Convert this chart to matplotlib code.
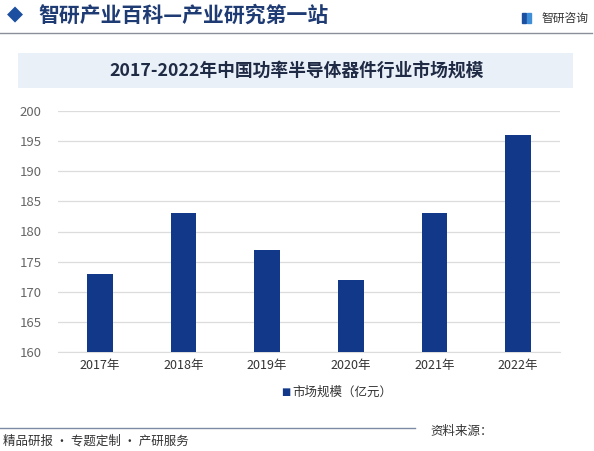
import matplotlib
matplotlib.use('Agg')
import matplotlib.pyplot as plt
from matplotlib.patches import Rectangle
from matplotlib.lines import Line2D

plt.rcParams['font.family'] = ['Noto Sans CJK SC', 'DejaVu Sans']

years = ['2017年', '2018年', '2019年', '2020年', '2021年', '2022年']
market_size = [173, 183, 177, 172, 183, 196]
y_ticks = [160, 165, 170, 175, 180, 185, 190, 195, 200]

header_text = '智研产业百科—产业研究第一站'
chart_title = '2017-2022年中国功率半导体器件行业市场规模'
legend_label = '市场规模（亿元）'
footer_left = '精品研报 · 专题定制 · 产研服务'
footer_right = '资料来源：'

bar_color = '#12388a'
navy = '#1f3b73'

fig = plt.figure(figsize=(5.94, 4.51), dpi=100)
W, H = 594, 451

def fx(px):
    return px / W

def fy(py):
    return 1 - py / H

# header
fig.text(fx(15), fy(14), '◆', color='#1c4fa0', fontsize=15, ha='center', va='center',
         family=['DejaVu Sans'])
fig.text(fx(38), fy(15), header_text, color=navy, fontsize=15, ha='left', va='center',
         fontweight='bold')
fig.add_artist(Line2D([0, fx(592)], [fy(33), fy(33)], color='#8a8f99', lw=1.0))
fig.add_artist(Rectangle((fx(522), fy(23)), 4 / W, 10 / H, color='#1c4fa0'))
fig.add_artist(Rectangle((fx(527), fy(23)), 4 / W, 10 / H, color='#3f8fd8'))
fig.text(fx(541), fy(18), '智研咨询', color='#333333', fontsize=8.5, ha='left', va='center')

# title box
fig.add_artist(Rectangle((fx(18), fy(88)), (573 - 18) / W, (88 - 53) / H,
                         facecolor='#eaf0f8', edgecolor='none'))
fig.text(0.5, fy(71), chart_title, color='#1f2a44', fontsize=12.8, ha='center',
         va='center', fontweight='bold')

# chart
ax = fig.add_axes([fx(58), fy(352), (560 - 58) / W, (352 - 111) / H])
x = range(len(years))
ax.bar(x, market_size, width=0.31, color=bar_color, zorder=3)
ax.set_xlim(-0.5, len(years) - 0.5)
ax.set_ylim(160, 200)
ax.set_yticks(y_ticks)
ax.set_xticks(list(x))
ax.set_xticklabels(years, color='#333333', fontsize=9)
ax.tick_params(axis='y', colors='#666666', labelsize=9.5, length=0, pad=12)
ax.tick_params(axis='x', length=0, pad=5)
ax.grid(axis='y', color='#dcdcdc', lw=0.9, zorder=0)
for s in ['top', 'right', 'left']:
    ax.spines[s].set_visible(False)
ax.spines['bottom'].set_color('#dcdcdc')

# legend
fig.text(fx(290), fy(392), '■', color=bar_color, fontsize=7, ha='right', va='center',
         family=['DejaVu Sans'])
fig.text(fx(292), fy(392), legend_label, color='#333333', fontsize=9, ha='left', va='center')

# footer
fig.add_artist(Line2D([0, fx(415)], [fy(428), fy(428)], color='#7d8aa3', lw=1.0))
fig.text(fx(3), fy(441), footer_left, color='#333333', fontsize=9, ha='left', va='center')
fig.text(fx(430), fy(432), footer_right, color='#333333', fontsize=9, ha='left', va='center')

fig.savefig('out.png', dpi=100)
